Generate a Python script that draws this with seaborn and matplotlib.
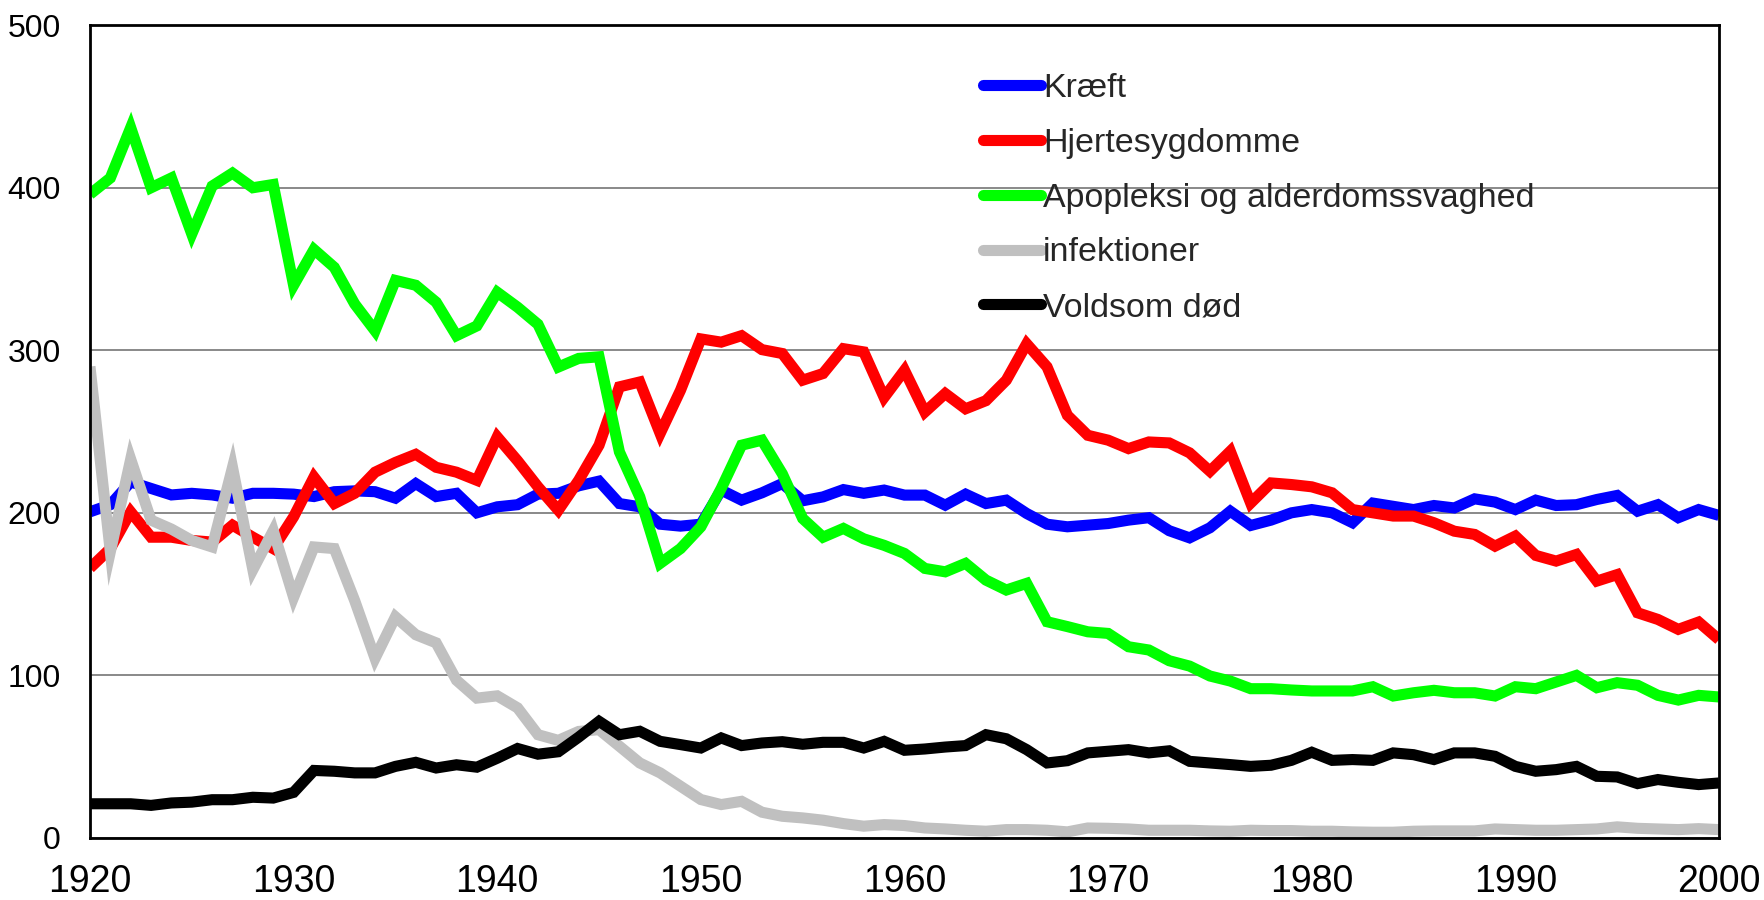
import numpy as np
import pandas as pd
import matplotlib
matplotlib.use("Agg")
import matplotlib.pyplot as plt
import seaborn as sns

# --- Data (deaths per 100.000) ---
years = list(range(1920, 2001))

kraeft = [
    200.6, 205, 219, 215, 211, 212, 211, 209, 212, 212,
    211.5, 210, 213, 213.5, 213, 209, 218, 210, 212, 200,
    203.7, 205, 211.5, 212, 216.6, 219.5, 205.7, 203.7, 193, 191.8,
    193, 214, 207.8, 212.3, 218, 207.4, 209.8, 214.3, 212, 214,
    210.9, 210.9, 204.7, 211.5, 205.7, 207.8, 199.6, 193, 191.4, 192.4,
    193.4, 195.5, 197, 189, 184.6, 190.8, 201, 192.2, 195.5, 200,
    202, 200, 193.9, 206, 204, 202, 204.5, 203, 208.6, 206.6,
    202, 207.8, 204.5, 205, 208.2, 210.7, 201, 205, 197, 202,
    198.4,
]
hjerte = [
    166, 178, 200.6, 185, 185, 183, 182, 192.4, 185, 178,
    197.5, 222, 205.7, 212, 225, 231, 236, 228, 225, 220,
    246.7, 232, 216, 201.6, 220, 241.6, 277.5, 280.5, 248.8, 275.4,
    307, 305, 309, 300.4, 298, 281.6, 285.7, 301, 299, 271,
    287.7, 262, 273.4, 264, 269, 281.6, 304, 289.8, 260, 247.7,
    244.7, 239.5, 243.6, 243, 236.9, 225.6, 237.9, 206, 218.4, 217.4,
    216, 212.3, 202, 200, 198, 198, 193.9, 188.7, 186.7, 179.5,
    185.7, 173.8, 170.3, 174.4, 158, 162, 138.5, 134.4, 128.3, 132.8,
    122,
]
apopleksi = [
    396, 406, 437, 400, 406, 371.5, 401, 409, 400, 402,
    340, 362, 351, 328.5, 312, 343, 340, 329.6, 309, 315,
    335.7, 326.5, 316, 289.7, 295, 296, 237.5, 209.8, 168.9, 178,
    191.4, 215, 241.6, 244.7, 224, 196.5, 185, 190.4, 184, 180,
    175, 165.8, 163.7, 168.9, 158.6, 152.5, 156.6, 133, 130, 126.8,
    125.8, 117.6, 115.6, 109, 105.7, 99.6, 96.5, 91.8, 91.8, 91,
    90.4, 90.4, 90.4, 93, 87.3, 89.3, 90.8, 89.3, 89.3, 87.3,
    93, 91.8, 95.9, 100, 92.4, 95.5, 93.9, 87.7, 84.8, 87.7,
    86.7,
]
infektioner = [
    290, 176, 233, 195.5, 190, 183, 179, 228, 165, 189,
    148, 179, 178, 146, 110.5, 136, 125, 120, 97, 86,
    87.4, 80, 63.5, 60, 65.5, 66.6, 56.4, 46.1, 40, 31.8,
    23.6, 20.5, 22.5, 15.8, 13.3, 12.3, 10.9, 8.8, 7.2, 8.2,
    7.6, 6.1, 5.5, 4.7, 4.1, 5.1, 5.1, 4.7, 3.7, 6.1,
    5.9, 5.5, 4.7, 4.7, 4.7, 4.3, 4.1, 4.7, 4.5, 4.5,
    4.1, 4.1, 3.7, 3.5, 3.5, 4.1, 4.3, 4.3, 4.3, 5.5,
    5.1, 4.7, 4.7, 5.1, 5.5, 6.8, 5.9, 5.5, 5.1, 5.7,
    5.1,
]
voldsom = [
    21, 21, 21, 20, 21.5, 22, 23.5, 23.5, 25, 24.5,
    28, 41.5, 41, 40, 40, 44, 46.5, 43, 45, 43.5,
    49, 55, 51.5, 53, 62, 71.7, 63.5, 65.6, 59.4, 57.4,
    55.3, 61.5, 56.8, 58.4, 59.2, 57.6, 58.8, 58.8, 55.3, 59.4,
    53.9, 54.7, 55.9, 56.8, 63.5, 61, 54.3, 46.1, 47.5, 52.3,
    53.3, 54.3, 52.3, 53.6, 47.1, 46.1, 45.1, 44, 44.7, 47.7,
    52.7, 47.7, 48.2, 47.7, 52.3, 51.2, 48.2, 52.3, 52.3, 50.2,
    44, 41, 42, 44, 37.9, 37.5, 33.4, 35.9, 34.2, 32.8,
    33.8,
]

labels = ["Kræft", "Hjertesygdomme", "Apopleksi og alderdomssvaghed",
          "infektioner", "Voldsom død"]
colors = ["#0000FF", "#FF0000", "#00FF00", "#C0C0C0", "#000000"]
x_ticks = list(range(1920, 2001, 10))
y_ticks = [0, 100, 200, 300, 400, 500]

# --- Long-form table for seaborn ---
series = [kraeft, hjerte, apopleksi, infektioner, voldsom]
df = pd.concat(
    [pd.DataFrame({"år": years, "værdi": vals, "årsag": lab})
     for lab, vals in zip(labels, series)],
    ignore_index=True,
)

# --- Style ---
sns.set_style("white")
plt.rcParams["font.family"] = ["Liberation Sans", "DejaVu Sans"]

fig = plt.figure(figsize=(17.64, 9), dpi=100)
ax = fig.add_axes([0.051, 0.069, 0.9235, 0.903])

sns.lineplot(data=df, x="år", y="værdi", hue="årsag", hue_order=labels,
             palette=dict(zip(labels, colors)), linewidth=8, ax=ax,
             legend=False, solid_joinstyle="miter", solid_capstyle="butt")

ax.set_xlim(1920, 2000)
ax.set_ylim(0, 500)
ax.set_xticks(x_ticks)
ax.set_yticks(y_ticks)
ax.set_xlabel("")
ax.set_ylabel("")

ax.yaxis.grid(True, color="#808080", linewidth=1.3)
ax.set_axisbelow(True)
ax.tick_params(axis="both", direction="out", length=8, width=1.3,
               color="#808080", labelcolor="black")
ax.tick_params(axis="x", labelsize=27, pad=10.5)
ax.tick_params(axis="y", labelsize=23, pad=13)

for side in ["left", "bottom", "right", "top"]:
    ax.spines[side].set_visible(True)
    ax.spines[side].set_color("black")
    ax.spines[side].set_linewidth(2)

# Legend without frame, inside the plot area
handles = [plt.Line2D([], [], color=c, linewidth=8, solid_capstyle="round")
           for c in colors]
fig.legend(handles, labels, loc="upper left", bbox_to_anchor=(0.5495, 0.934),
           frameon=False, fontsize=24.5, handlelength=1.72, handletextpad=0.05,
           labelspacing=0.70, borderaxespad=0)

fig.savefig("out.png", dpi=100)
plt.close(fig)
